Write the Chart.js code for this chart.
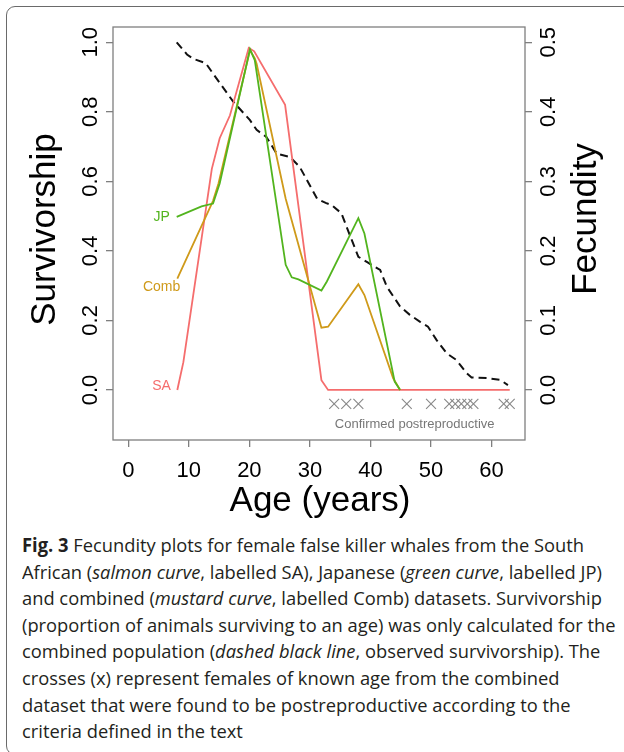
<!DOCTYPE html>
<html>
<head>
<meta charset="utf-8">
<script src="https://cdn.jsdelivr.net/npm/chart.js@4.4.1/dist/chart.umd.min.js"></script>
<style>
  html, body { margin: 0; padding: 0; background: #fff; }
  body { width: 624px; height: 752px; position: relative; overflow: hidden; }
  #frame { position: absolute; left: 6px; top: 6px; width: 660px; height: 749px; border: 1.5px solid #6a6a6a; border-radius: 9px; box-sizing: border-box; }
  #plot { position: absolute; left: 0; top: 0; width: 624px; height: 520px; }
  #caption { position: absolute; left: 22px; top: 532px; font-family: 'Open Sans', sans-serif; font-size: 19px; line-height: 26.6px; color: #231f20; transform-origin: 0 0; white-space: nowrap; }
</style>
</head>
<body>
<div id="frame"></div>
<div id="plot"><canvas id="c" width="624" height="520"></canvas></div>
<div id="caption">
  <div id="cap1"><b>Fig. 3</b> Fecundity plots for female false killer whales from the South</div>
  <div>African (<i>salmon curve</i>, labelled SA), Japanese (<i>green curve</i>, labelled JP)</div>
  <div>and combined (<i>mustard curve</i>, labelled Comb) datasets. Survivorship</div>
  <div>(proportion of animals surviving to an age) was only calculated for the</div>
  <div>combined population (<i>dashed black line</i>, observed survivorship). The</div>
  <div>crosses (x) represent females of known age from the combined</div>
  <div>dataset that were found to be postreproductive according to the</div>
  <div>criteria defined in the text</div>
</div>
<script>
// values
const survAge = [8, 9.7, 10.8, 12.8, 14, 17.3, 20.1, 21.2, 22.8, 24.5, 26.7, 28.3, 31.2, 32.6, 33.6, 35.2, 36.6, 38.0, 39.6, 41.6, 42.7, 44.9, 46.5, 48.2, 49.5, 50.9, 52.6, 54.2, 55.9, 56.7, 59.2, 61.4, 62.7];
const survVal = [1.0, 0.965, 0.952, 0.94, 0.91, 0.83, 0.776, 0.748, 0.728, 0.68, 0.67, 0.642, 0.55, 0.538, 0.532, 0.508, 0.445, 0.383, 0.366, 0.345, 0.297, 0.24, 0.216, 0.196, 0.182, 0.144, 0.105, 0.086, 0.048, 0.036, 0.034, 0.029, 0.014];

const saAge = [8.1, 9.1, 13.8, 15.1, 16.8, 19.9, 20.8, 25.9, 31.9, 33.0, 63.0];
const saFec = [0, 0.04, 0.318, 0.362, 0.395, 0.492, 0.487, 0.41, 0.014, 0, 0];

const jpAge = [8.0, 12.1, 14.0, 15.1, 20.1, 20.9, 26.0, 27.0, 28.1, 31.9, 32.8, 38.0, 39.0, 44.0, 44.9];
const jpFec = [0.249, 0.264, 0.268, 0.297, 0.490, 0.474, 0.18, 0.162, 0.159, 0.143, 0.156, 0.247, 0.225, 0.012, 0];

const combAge = [8.1, 14.0, 14.9, 20.1, 20.9, 21.2, 26.0, 31.9, 33.0, 38.0, 39.0, 43.75, 44.9];
const combFec = [0.16, 0.272, 0.297, 0.4885, 0.477, 0.469, 0.275, 0.0895, 0.091, 0.152, 0.1365, 0.0168, 0];

const postReproAges = [34, 36, 38, 46, 50, 53, 54, 55, 56, 57, 62, 63];

const xTicks = [0, 10, 20, 30, 40, 50, 60];
const survTicks = [0, 0.2, 0.4, 0.6, 0.8, 1.0];
const fecTicks = [0, 0.1, 0.2, 0.3, 0.4, 0.5];

const curveLabels = ['JP', 'Comb', 'SA'];
const curveLabelFec = [0.249, 0.148, 0.005];
const curveLabelColors = ['#52b41e', '#cf9a1a', '#f56d6d'];
const LABEL_AGE = 5.5;
const CROSS_Y = -0.04;

const pts = (xs, ys) => xs.map((x, i) => ({ x: x, y: ys[i] }));

function rotText(ctx, txt, x, y) {
    ctx.save();
    ctx.translate(x, y);
    ctx.rotate(-Math.PI / 2);
    ctx.fillText(txt, 0, 0);
    ctx.restore();
}

const decor = {
    id: 'decor',
    afterDraw(chart) {
        const { ctx, chartArea: a, scales } = chart;
        ctx.save();
        ctx.strokeStyle = '#7f7f7f';
        ctx.lineWidth = 1.3;
        ctx.strokeRect(a.left, a.top, a.right - a.left, a.bottom - a.top);

        ctx.fillStyle = '#000';
        ctx.textAlign = 'center';
        ctx.textBaseline = 'middle';
        ctx.font = '22px "Liberation Sans"';
        xTicks.forEach(v => ctx.fillText(String(v), scales.x.getPixelForValue(v), 471));
        survTicks.forEach(v => rotText(ctx, v.toFixed(1), 91, scales.y.getPixelForValue(v)));
        fecTicks.forEach(v => rotText(ctx, v.toFixed(1), 549, scales.y2.getPixelForValue(v)));

        ctx.font = '35px "Liberation Sans"';
        rotText(ctx, 'Survivorship', 45, (a.top + a.bottom) / 2 - 4);
        rotText(ctx, 'Fecundity', 586, 219);
        ctx.textBaseline = 'alphabetic';
        ctx.fillText('Age (years)', (a.left + a.right) / 2 + 1, 511);

        // curve labels
        ctx.textBaseline = 'middle';
        ctx.font = '14px "Liberation Sans"';
        curveLabels.forEach((t, i) => {
            ctx.fillStyle = curveLabelColors[i];
            ctx.fillText(t, scales.x.getPixelForValue(LABEL_AGE), scales.y2.getPixelForValue(curveLabelFec[i]));
        });

        ctx.fillStyle = '#777';
        ctx.font = '13px "Liberation Sans"';
        ctx.fillText('Confirmed postreproductive', scales.x.getPixelForValue(47.3), scales.y.getPixelForValue(-0.098));
        ctx.restore();
    }
};

const tickGrid = { drawOnChartArea: false, drawTicks: true, tickLength: 7, color: '#7f7f7f', lineWidth: 1.3 };

new Chart(document.getElementById('c').getContext('2d'), {
    type: 'line',
    data: {
        datasets: [
            { label: 'JP', data: pts(jpAge, jpFec), yAxisID: 'y2', borderColor: curveLabelColors[0], borderWidth: 1.8, pointRadius: 0, tension: 0 },
            { label: 'Comb', data: pts(combAge, combFec), yAxisID: 'y2', borderColor: curveLabelColors[1], borderWidth: 1.8, pointRadius: 0, tension: 0 },
            { label: 'SA', data: pts(saAge, saFec), yAxisID: 'y2', borderColor: curveLabelColors[2], borderWidth: 1.8, pointRadius: 0, tension: 0 },
            { label: 'Survivorship', data: pts(survAge, survVal), yAxisID: 'y', borderColor: '#111', borderWidth: 2, borderDash: [8, 5], pointRadius: 0, tension: 0 },
            { type: 'scatter', label: 'Postreproductive', data: postReproAges.map(x => ({ x: x, y: CROSS_Y })), yAxisID: 'y', showLine: false,
              pointStyle: 'crossRot', pointRadius: 7, pointHoverRadius: 7, borderColor: '#888', borderWidth: 1.1 }
        ]
    },
    options: {
        responsive: false,
        animation: false,
        events: [],
        layout: { autoPadding: false, padding: { top: 27, left: 0, right: 0, bottom: 0 } },
        plugins: { legend: { display: false }, tooltip: { enabled: false } },
        scales: {
            x: {
                type: 'linear', min: -2.52, max: 65.52,
                afterBuildTicks: s => { s.ticks = xTicks.map(v => ({ value: v })); },
                afterFit: s => { s.height = 80; },
                ticks: { display: false },
                grid: tickGrid, border: { display: false }
            },
            y: {
                position: 'left', min: -0.144, max: 1.044,
                afterBuildTicks: s => { s.ticks = survTicks.map(v => ({ value: v })); },
                afterFit: s => { s.width = 113; },
                ticks: { display: false },
                grid: tickGrid, border: { display: false }
            },
            y2: {
                position: 'right', min: -0.072, max: 0.522,
                afterBuildTicks: s => { s.ticks = fecTicks.map(v => ({ value: v })); },
                afterFit: s => { s.width = 99; },
                ticks: { display: false },
                grid: tickGrid, border: { display: false }
            }
        }
    },
    plugins: [decor]
});

// fit caption width to the original column
const cap = document.getElementById('caption');
const r = document.createRange();
r.selectNodeContents(document.getElementById('cap1'));
const tw = r.getBoundingClientRect().width;
cap.style.transform = 'scaleX(' + (562 / tw) + ')';
</script>
</body>
</html>
